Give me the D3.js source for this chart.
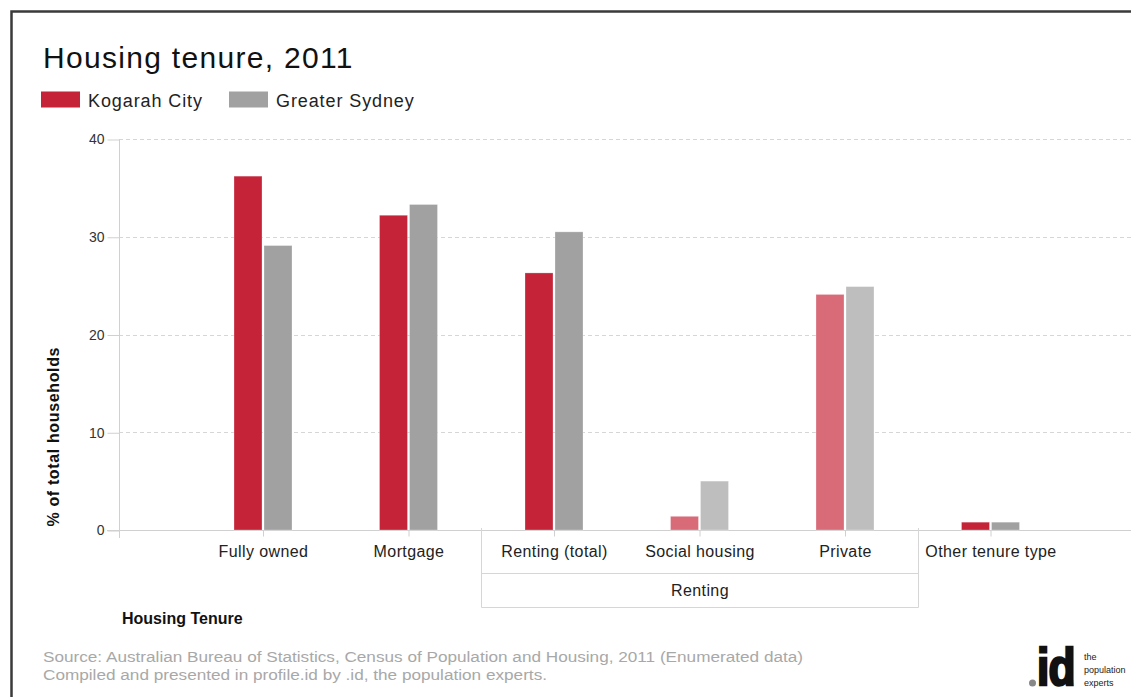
<!DOCTYPE html>
<html>
<head>
<meta charset="utf-8">
<script src="https://cdn.jsdelivr.net/npm/d3@7/dist/d3.min.js"></script>
<style>
  html, body { margin: 0; padding: 0; background: #fff; }
  svg { display: block; font-family: "Liberation Sans", Arial, sans-serif; }
</style>
</head>
<body>
<svg id="chart" width="1131" height="697"></svg>
<script>
// Housing tenure categories and values (% of total households)
const categories = ["Fully owned", "Mortgage", "Renting (total)", "Social housing", "Private", "Other tenure type"];
const seriesNames = ["Kogarah City", "Greater Sydney"];
const kogarah = [36.2, 32.2, 26.3, 1.4, 24.1, 0.8];
const sydney  = [29.1, 33.3, 30.5, 5.0, 24.9, 0.8];
const subCategories = ["Social housing", "Private"];
const groupName = "Renting";
const groupMembers = ["Renting (total)", "Social housing", "Private"];
const yTicks = [0, 10, 20, 30, 40];

const svg = d3.select("#chart");
const W = 1131, H = 697;

// Outer frame (left and top edges visible)
svg.append("rect")
  .attr("x", 11.5).attr("y", 11.5)
  .attr("width", 1200).attr("height", 800)
  .attr("fill", "none").attr("stroke", "#3a3a3a").attr("stroke-width", 2.5);

// Title
svg.append("text")
  .attr("x", 43).attr("y", 68)
  .attr("font-size", 30).attr("fill", "#111")
  .attr("letter-spacing", 1.3)
  .text("Housing tenure, 2011");

// Legend
const colors = { "Kogarah City": "#c42338", "Greater Sydney": "#a1a1a1" };
const lightColors = { "Kogarah City": "#d96a78", "Greater Sydney": "#bebebe" };
const legendX = [41, 229];
seriesNames.forEach((s, i) => {
  svg.append("rect")
    .attr("x", legendX[i]).attr("y", 91.5)
    .attr("width", 39).attr("height", 16)
    .attr("fill", colors[s]);
  svg.append("text")
    .attr("x", legendX[i] + 47).attr("y", 106.5)
    .attr("font-size", 18).attr("fill", "#222")
    .attr("letter-spacing", 0.9)
    .text(s);
});

// Scales
const y = d3.scaleLinear().domain([0, 40]).range([530, 139]);
const x0 = d3.scaleBand().domain(categories).range([190.25, 1063.25]).padding(0);
const x1 = d3.scaleBand().domain(seriesNames).range([-29, 29]).padding(0);

const axisLeft = 119;

// Gridlines
svg.append("g")
  .selectAll("line")
  .data(yTicks.filter(d => d > 0))
  .join("line")
  .attr("x1", axisLeft).attr("x2", W)
  .attr("y1", d => Math.round(y(d)) + 0.5).attr("y2", d => Math.round(y(d)) + 0.5)
  .attr("stroke", "#d6d6d6").attr("stroke-dasharray", "4,3");

// Y axis
const yAxis = d3.axisLeft(y).tickValues(yTicks).tickSize(12).tickPadding(3);
const gy = svg.append("g").attr("transform", `translate(${axisLeft + 0.5},0.5)`).call(yAxis);
gy.select(".domain").remove();
gy.selectAll(".tick line").attr("stroke", "#d0d0d0");
gy.selectAll(".tick text")
  .attr("font-size", 14).attr("fill", "#333")
  .attr("font-family", "'Liberation Sans', Arial, sans-serif");
svg.append("line")
  .attr("x1", axisLeft + 0.5).attr("x2", axisLeft + 0.5)
  .attr("y1", y(40)).attr("y2", 538)
  .attr("stroke", "#d0d0d0");

// Baseline
svg.append("line")
  .attr("x1", 107).attr("x2", W)
  .attr("y1", 530.5).attr("y2", 530.5)
  .attr("stroke", "#d0d0d0");

// Bars
const rows = categories.map((c, i) => ({ cat: c, values: [
  { s: seriesNames[0], v: kogarah[i] },
  { s: seriesNames[1], v: sydney[i] }
]}));

const groups = svg.append("g").selectAll("g")
  .data(rows)
  .join("g")
  .attr("transform", d => `translate(${x0(d.cat) + x0.bandwidth() / 2},0)`);

groups.selectAll("rect")
  .data(d => d.values.map(v => ({ ...v, cat: d.cat })))
  .join("rect")
  .attr("x", d => x1(d.s) + (d.s === seriesNames[0] ? 0 : 1))
  .attr("width", x1.bandwidth() - 1)
  .attr("y", d => y(d.v))
  .attr("height", d => y(0) - y(d.v))
  .attr("fill", d => subCategories.includes(d.cat) ? lightColors[d.s] : colors[d.s])
  .attr("stroke", "rgba(255,255,255,0.35)")
  .attr("stroke-width", 0.8);

// X axis ticks and labels
const xAxis = d3.axisBottom(x0).tickSize(6).tickPadding(9);
const gx = svg.append("g").attr("transform", "translate(0.5,530.5)").call(xAxis);
gx.select(".domain").remove();
gx.selectAll(".tick line").attr("stroke", "#d0d0d0");
gx.selectAll(".tick text")
  .attr("font-size", 16).attr("fill", "#222")
  .attr("letter-spacing", 0.4)
  .attr("font-family", "'Liberation Sans', Arial, sans-serif");

// Group bracket for the renting categories
const gLeft = x0(groupMembers[0]);
const gRight = x0(groupMembers[groupMembers.length - 1]) + x0.bandwidth();
const bx1 = Math.round(gLeft) + 0.5;
const bx2 = Math.round(gRight) + 0.5;
const bracket = svg.append("g").attr("stroke", "#d6d6d6").attr("fill", "none");
bracket.append("line").attr("x1", bx1).attr("x2", bx1).attr("y1", 528).attr("y2", 607.5);
bracket.append("line").attr("x1", bx2).attr("x2", bx2).attr("y1", 528).attr("y2", 607.5);
bracket.append("line").attr("x1", bx1).attr("x2", bx2).attr("y1", 573.5).attr("y2", 573.5);
bracket.append("line").attr("x1", bx1).attr("x2", bx2).attr("y1", 607.5).attr("y2", 607.5);
svg.append("text")
  .attr("x", (bx1 + bx2) / 2).attr("y", 596)
  .attr("text-anchor", "middle")
  .attr("font-size", 16).attr("fill", "#222").attr("letter-spacing", 0.4)
  .text(groupName);

// Axis titles
svg.append("text")
  .attr("x", 122).attr("y", 624)
  .attr("font-size", 16).attr("font-weight", "bold").attr("fill", "#111")
  .text("Housing Tenure");

svg.append("text")
  .attr("transform", "translate(59,437) rotate(-90)")
  .attr("text-anchor", "middle")
  .attr("font-size", 16).attr("font-weight", "bold").attr("fill", "#111")
  .attr("textLength", 179).attr("lengthAdjust", "spacing")
  .text("% of total households");

// Source notes
svg.append("text")
  .attr("x", 43).attr("y", 662)
  .attr("font-size", 14).attr("fill", "#a8a8a8")
  .attr("textLength", 760).attr("lengthAdjust", "spacingAndGlyphs")
  .text("Source: Australian Bureau of Statistics, Census of Population and Housing, 2011 (Enumerated data)");
svg.append("text")
  .attr("x", 43).attr("y", 680)
  .attr("font-size", 14).attr("fill", "#a8a8a8")
  .attr("textLength", 504).attr("lengthAdjust", "spacingAndGlyphs")
  .text("Compiled and presented in profile.id by .id, the population experts.");

// Logo
const logo = svg.append("g");
logo.append("circle").attr("cx", 1032.5).attr("cy", 683).attr("r", 3.5).attr("fill", "#888");
logo.append("text")
  .attr("transform", "translate(1037,685) scale(0.85,1)")
  .attr("font-size", 52).attr("font-weight", "bold").attr("fill", "#111")
  .attr("stroke", "#111").attr("stroke-width", 2.5)
  .attr("letter-spacing", -1)
  .text("id");
["the", "population", "experts"].forEach((t, i) => {
  logo.append("text")
    .attr("x", 1084).attr("y", 660 + i * 13)
    .attr("font-size", 9).attr("fill", "#222")
    .text(t);
});
</script>
</body>
</html>
